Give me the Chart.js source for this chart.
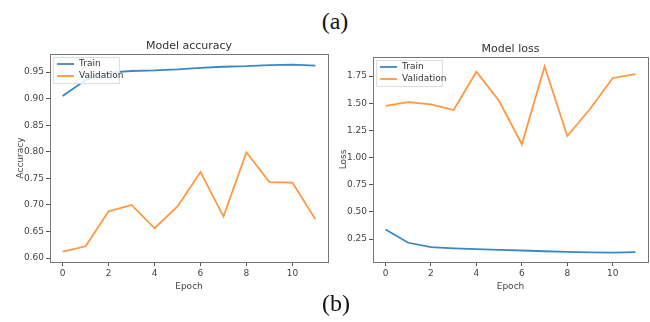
<!DOCTYPE html>
<html>
<head>
<meta charset="utf-8">
<script src="https://cdn.jsdelivr.net/npm/chart.js@4.4.1/dist/chart.umd.min.js"></script>
<style>
  body { margin: 0; background: #fff; width: 650px; height: 322px; overflow: hidden; position: relative; }
  .cap { position: absolute; font-family: "Liberation Serif", serif; font-size: 24px; color: #111; width: 60px; text-align: center; line-height: 24px; }
  .box { position: absolute; }
</style>
</head>
<body>
<div class="cap" style="left:305px; top:9px;">(a)</div>
<div class="box" style="left:0px; top:30px; width:332px; height:262px;"><canvas id="accChart"></canvas></div>
<div class="box" style="left:323px; top:30px; width:327px; height:262px;"><canvas id="lossChart"></canvas></div>
<div class="cap" style="left:306px; top:291px;">(b)</div>
<script>
// Labels
let epochs = [0, 1, 2, 3, 4, 5, 6, 7, 8, 9, 10, 11];
let epochTicks = [0, 2, 4, 6, 8, 10];
let accTicks = [0.60, 0.65, 0.70, 0.75, 0.80, 0.85, 0.90, 0.95];
let lossTicks = [0.25, 0.50, 0.75, 1.00, 1.25, 1.50, 1.75];

// Datas
let trainAcc = [0.905, 0.935, 0.949, 0.952, 0.953, 0.955, 0.958, 0.960, 0.961, 0.963, 0.964, 0.962];
let valAcc   = [0.612, 0.622, 0.688, 0.700, 0.656, 0.697, 0.762, 0.678, 0.799, 0.743, 0.742, 0.673];
let trainLoss = [0.338, 0.216, 0.176, 0.165, 0.158, 0.150, 0.145, 0.138, 0.133, 0.128, 0.125, 0.130];
let valLoss   = [1.475, 1.510, 1.490, 1.437, 1.790, 1.520, 1.122, 1.838, 1.198, 1.447, 1.732, 1.768];

const blue = '#3a87c6';
const orange = '#ff9840';
const font = 'DejaVu Sans';

// spines, title centred over the plot, legend inside upper left
const frame = {
  id: 'frame',
  afterDraw(chart, args, opts) {
    let a = chart.chartArea, c = chart.ctx;
    c.save();
    c.strokeStyle = '#777';
    c.lineWidth = 1;
    c.strokeRect(a.left + 0.5, a.top + 0.5, a.right - a.left, a.bottom - a.top);

    c.fillStyle = '#333';
    c.font = '11px ' + font;
    c.textAlign = 'center';
    c.textBaseline = 'middle';
    c.fillText(opts.title, (a.left + a.right) / 2, a.top - 8);

    let x = a.left + 3, y = a.top + 3;
    c.textAlign = 'left';
    c.fillStyle = 'rgba(255,255,255,0.85)';
    c.strokeStyle = '#ddd';
    c.fillRect(x, y, 66, 26);
    c.strokeRect(x + 0.5, y + 0.5, 66, 26);
    c.font = '9px ' + font;
    chart.data.datasets.forEach((ds, i) => {
      let ly = y + 7 + i * 12;
      c.strokeStyle = ds.borderColor;
      c.lineWidth = 1.8;
      c.beginPath();
      c.moveTo(x + 4, ly);
      c.lineTo(x + 21, ly);
      c.stroke();
      c.fillStyle = '#333';
      c.fillText(ds.label, x + 26, ly);
    });
    c.restore();
  }
};

function makeChart(id, title, yTitle, train, val, yMin, yMax, yTickVals, topPad, rightPad) {
  return new Chart(document.getElementById(id).getContext('2d'), {
    type: 'line',
    data: {
      labels: epochs,
      datasets: [
        { label: 'Train', data: train, borderColor: blue, borderWidth: 1.8, pointRadius: 0, fill: false, tension: 0 },
        { label: 'Validation', data: val, borderColor: orange, borderWidth: 1.8, pointRadius: 0, fill: false, tension: 0 }
      ]
    },
    options: {
      animation: false,
      responsive: true,
      maintainAspectRatio: false,
      layout: { padding: { right: rightPad, top: topPad, left: 15, bottom: 0 } },
      plugins: {
        legend: { display: false },
        tooltip: { enabled: false },
        title: { display: false },
        frame: { title: title }
      },
      scales: {
        x: {
          type: 'linear', min: -0.55, max: 11.55,
          afterBuildTicks: s => { s.ticks = epochTicks.map(v => ({ value: v })); },
          afterFit: s => { s.height = 30; },
          grid: { drawOnChartArea: false, drawTicks: true, tickLength: 4, color: '#555' },
          border: { display: false },
          ticks: { color: '#444', font: { family: font, size: 9 }, padding: 2, maxRotation: 0 },
          title: { display: true, text: 'Epoch', color: '#444', font: { family: font, size: 9 }, padding: { top: 0, bottom: 0 } }
        },
        y: {
          min: yMin, max: yMax,
          afterBuildTicks: s => { s.ticks = yTickVals.map(v => ({ value: v })); },
          afterFit: s => { s.width = 35; },
          grid: { drawOnChartArea: false, drawTicks: true, tickLength: 4, color: '#555' },
          border: { display: false },
          ticks: { color: '#444', font: { family: font, size: 9 }, padding: 2, callback: v => v.toFixed(2) },
          title: { display: true, text: yTitle, color: '#444', font: { family: font, size: 9 }, padding: { top: 0, bottom: 4 } }
        }
      }
    },
    plugins: [frame]
  });
}

makeChart('accChart', 'Model accuracy', 'Accuracy', trainAcc, valAcc, 0.5925, 0.984, accTicks, 24, 4);
makeChart('lossChart', 'Model loss', 'Loss', trainLoss, valLoss, 0.039, 1.925, lossTicks, 27, 2);
</script>
</body>
</html>
